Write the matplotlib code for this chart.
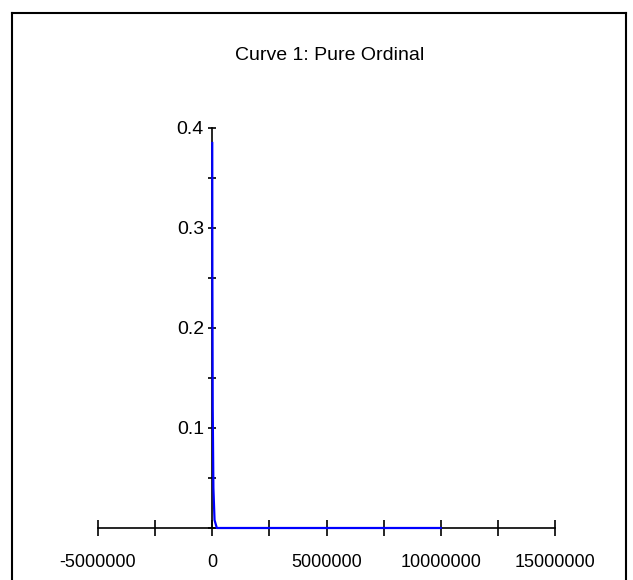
import matplotlib
matplotlib.use("Agg")
import matplotlib.pyplot as plt
from matplotlib.lines import Line2D
from matplotlib.ticker import MultipleLocator, FixedLocator

# curve data
x_vals = [0, 5000, 20000, 50000, 100000, 200000, 10000000]
y_vals = [0.385, 0.25, 0.12, 0.04, 0.008, 0.0, 0.0]

x_ticks = [-5000000, 0, 5000000, 10000000, 15000000]
y_ticks = [0.1, 0.2, 0.3, 0.4]
title = "Curve 1: Pure Ordinal"

plt.rcParams["font.family"] = ["Liberation Sans", "DejaVu Sans"]

W, H = 633, 580
fig = plt.figure(figsize=(W / 100, H / 100), dpi=100)
fig.patch.set_facecolor("white")

# axes box: x -5e6..15e6 -> px 98..555, y 0..0.4 -> px 528..128
ax = fig.add_axes([98 / W, 1 - 528 / H, (555 - 98) / W, (528 - 128) / H])
ax.set_xlim(-5000000, 15000000)
ax.set_ylim(0, 0.4)
ax.patch.set_alpha(0)

ax.plot(x_vals, y_vals, color="#0000ff", lw=1.6, zorder=3, clip_on=False)

for s in ("top", "right"):
    ax.spines[s].set_visible(False)
ax.spines["left"].set_position(("data", 0))
ax.spines["bottom"].set_position(("data", 0))
ax.spines["left"].set_linewidth(1.2)
ax.spines["bottom"].set_linewidth(1.2)

ax.xaxis.set_major_locator(FixedLocator(x_ticks))
ax.xaxis.set_minor_locator(MultipleLocator(2500000))
ax.yaxis.set_major_locator(FixedLocator(y_ticks))
ax.yaxis.set_minor_locator(MultipleLocator(0.05))
ax.set_xticklabels([str(v) for v in x_ticks])
ax.set_yticklabels([f"{v:.1f}" for v in y_ticks])

ax.tick_params(axis="x", which="both", direction="inout", length=11, width=1.2,
               pad=13, labelsize=13)
ax.tick_params(axis="y", which="both", direction="inout", length=6, width=1.2,
               pad=3, labelsize=14)

fig.text(330 / W, 1 - 55 / H, title, ha="center", va="center", fontsize=14)

# outer frame (open at the bottom)
frame = dict(color="black", lw=1.5, transform=fig.transFigure)
fig.add_artist(Line2D([11.5 / W, 11.5 / W], [0, 1 - 12.5 / H], **frame))
fig.add_artist(Line2D([11.5 / W, 625.5 / W], [1 - 12.5 / H, 1 - 12.5 / H], **frame))
fig.add_artist(Line2D([625.5 / W, 625.5 / W], [0, 1 - 12.5 / H], **frame))

fig.savefig("out.png", dpi=100, facecolor="white")
